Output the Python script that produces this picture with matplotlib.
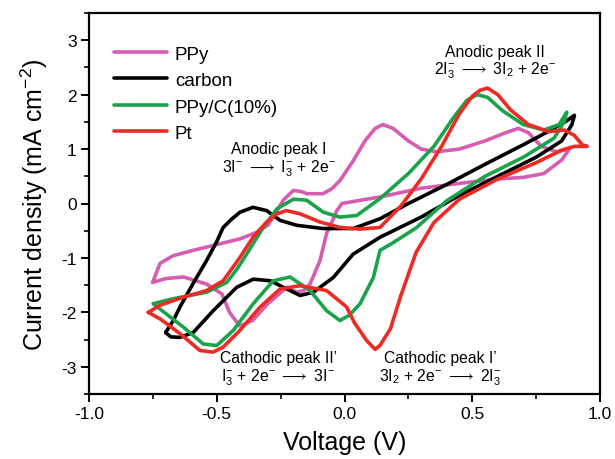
import matplotlib
matplotlib.use("Agg")
import matplotlib.pyplot as plt
from matplotlib.ticker import MultipleLocator

plt.rcParams['font.family'] = ['Liberation Sans', 'DejaVu Sans']
plt.rcParams['mathtext.fontset'] = 'custom'
plt.rcParams['mathtext.rm'] = 'Liberation Sans'
plt.rcParams['mathtext.it'] = 'Liberation Sans:italic'
plt.rcParams['mathtext.bf'] = 'Liberation Sans:bold'
plt.rcParams['axes.unicode_minus'] = False

labels = ['PPy', 'carbon', 'PPy/C(10%)', 'Pt']
colors = ['#d65db1', '#000000', '#1aa34a', '#ee2a24']

ppy_v = [-0.751, -0.722, -0.671, -0.60, -0.539, -0.47, -0.409, -0.344, -0.30, -0.279,
         -0.24, -0.20, -0.17, -0.148, -0.084, -0.05, -0.018, 0.035, 0.08, 0.12,
         0.15, 0.19, 0.25, 0.30, 0.36, 0.45, 0.55, 0.63, 0.68, 0.72,
         0.77, 0.83, 0.88, 0.85, 0.78, 0.70, 0.60, 0.45, 0.30, 0.139,
         0.05, -0.01, -0.03, -0.05, -0.07, -0.096, -0.135, -0.16, -0.187, -0.226,
         -0.30, -0.36, -0.41, -0.45, -0.48, -0.54, -0.63, -0.70, -0.751]
ppy_j = [-1.45, -1.10, -0.96, -0.87, -0.80, -0.72, -0.65, -0.53, -0.40, -0.25,
         0.06, 0.24, 0.22, 0.18, 0.18, 0.27, 0.42, 0.79, 1.15, 1.38,
         1.45, 1.38, 1.15, 1.00, 0.95, 1.00, 1.15, 1.30, 1.38, 1.30,
         1.05, 0.95, 1.00, 0.80, 0.55, 0.48, 0.45, 0.37, 0.28, 0.12,
         0.05, 0.00, -0.13, -0.35, -0.55, -1.05, -1.48, -1.60, -1.63, -1.54,
         -1.84, -2.15, -2.25, -2.00, -1.66, -1.48, -1.35, -1.38, -1.45]

carbon_v = [-0.70, -0.67, -0.644, -0.59, -0.54, -0.50, -0.475, -0.44, -0.409, -0.358,
            -0.305, -0.252, -0.187, -0.084, 0.034, 0.139, 0.25, 0.40, 0.55, 0.70,
            0.80, 0.87, 0.90, 0.89, 0.85, 0.75, 0.60, 0.45, 0.30, 0.139,
            0.034, -0.044, -0.122, -0.174, -0.239, -0.29, -0.357, -0.422, -0.514, -0.592,
            -0.644, -0.68, -0.70]
carbon_j = [-2.37, -2.15, -1.90, -1.45, -1.05, -0.70, -0.44, -0.28, -0.16, -0.07,
            -0.13, -0.31, -0.40, -0.46, -0.46, -0.28, 0.00, 0.35, 0.72, 1.08,
            1.33, 1.52, 1.62, 1.45, 1.15, 0.85, 0.50, 0.15, -0.25, -0.62,
            -0.93, -1.36, -1.63, -1.69, -1.54, -1.42, -1.39, -1.54, -1.97, -2.37,
            -2.46, -2.45, -2.37]

ppyc_v = [-0.748, -0.671, -0.54, -0.461, -0.42, -0.383, -0.318, -0.265, -0.20, -0.148,
          -0.083, -0.018, 0.048, 0.139, 0.25, 0.35, 0.43, 0.48, 0.52, 0.56,
          0.62, 0.70, 0.78, 0.84, 0.87, 0.86, 0.82, 0.70, 0.55, 0.40,
          0.28, 0.18, 0.139, 0.113, 0.061, 0.02, -0.018, -0.07, -0.135, -0.213,
          -0.279, -0.357, -0.435, -0.50, -0.553, -0.631, -0.722, -0.748]
ppyc_j = [-1.84, -1.75, -1.63, -1.45, -1.20, -0.93, -0.44, -0.10, 0.08, 0.06,
          -0.16, -0.25, -0.22, 0.09, 0.55, 1.05, 1.60, 1.90, 2.00, 1.95,
          1.70, 1.45, 1.35, 1.45, 1.68, 1.50, 1.20, 0.85, 0.50, 0.05,
          -0.45, -0.75, -0.86, -1.36, -1.84, -2.05, -2.15, -1.97, -1.60, -1.35,
          -1.42, -1.84, -2.33, -2.61, -2.58, -2.27, -1.94, -1.84]

pt_v = [-0.768, -0.722, -0.63, -0.54, -0.475, -0.409, -0.358, -0.305, -0.265, -0.227,
        -0.174, -0.096, -0.018, 0.061, 0.139, 0.22, 0.30, 0.38, 0.45, 0.50,
        0.53, 0.56, 0.60, 0.65, 0.72, 0.80, 0.86, 0.90, 0.93, 0.95,
        0.90, 0.85, 0.75, 0.60, 0.45, 0.35, 0.28, 0.22, 0.18, 0.14,
        0.12, 0.087, 0.04, 0.008, -0.07, -0.174, -0.252, -0.33, -0.409, -0.475,
        -0.514, -0.566, -0.644, -0.722, -0.768]
pt_j = [-2.00, -1.87, -1.72, -1.60, -1.42, -0.99, -0.62, -0.34, -0.19, -0.13,
        -0.19, -0.34, -0.44, -0.47, -0.44, -0.05, 0.45, 1.05, 1.65, 1.97,
        2.08, 2.12, 2.00, 1.72, 1.45, 1.32, 1.35, 1.25, 1.08, 1.05,
        1.05, 0.98, 0.75, 0.45, 0.08, -0.35, -0.90, -1.70, -2.30, -2.60,
        -2.68, -2.52, -2.20, -1.90, -1.60, -1.51, -1.57, -1.90, -2.33, -2.64,
        -2.73, -2.70, -2.39, -2.12, -2.00]

series_v = [ppy_v, carbon_v, ppyc_v, pt_v]
series_j = [ppy_j, carbon_j, ppyc_j, pt_j]

fig = plt.figure(figsize=(6.15, 4.6), dpi=100)
ax = fig.add_axes([89/615, 65/460, 511/615, 381/460])

for v, j, lab, c in zip(series_v, series_j, labels, colors):
    ax.plot(v, j, color=c, lw=2.6, label=lab, solid_joinstyle='round', solid_capstyle='round')

ax.set_xlim(-1.0, 1.0)
ax.set_ylim(-3.5, 3.5)
ax.xaxis.set_minor_locator(MultipleLocator(0.25))
ax.yaxis.set_minor_locator(MultipleLocator(0.5))
ax.set_xticks([-1.0, -0.5, 0.0, 0.5, 1.0])
ax.set_xticklabels(['-1.0', '-0.5', '0.0', '0.5', '1.0'])
ax.set_yticks([-3, -2, -1, 0, 1, 2, 3])
ax.set_yticklabels(['-3', '-2', '-1', '0', '1', '2', '3'])
for s in ax.spines.values():
    s.set_linewidth(1.6)
ax.tick_params(which='major', direction='out', length=6, width=1.4, labelsize=12.5, pad=3)
ax.tick_params(which='minor', direction='out', length=3.5, width=1.2)

ax.set_xlabel('Voltage (V)', fontsize=18, labelpad=6)
ax.set_ylabel('Current density (mA cm$^{-2}$)', fontsize=18, labelpad=8)

ax.legend(loc='upper left', bbox_to_anchor=(0.049, 0.915), frameon=False,
          fontsize=13.5, handlelength=2.8, handletextpad=0.45, labelspacing=0.5,
          borderpad=0, borderaxespad=0)

fs = 11.3
annotations = [
    (-0.256, 0.81, 'Anodic peak I\n' + r'3I$^{-}$ $\longrightarrow$ I$_3^{-}$ + 2e$^{-}$'),
    (0.589, 2.60, 'Anodic peak II\n' + r'2I$_3^{-}$ $\longrightarrow$ 3I$_2$ + 2e$^{-}$'),
    (-0.26, -3.03, 'Cathodic peak II\u2019\n' + r'I$_3^{-}$ + 2e$^{-}$ $\longrightarrow$ 3I$^{-}$'),
    (0.374, -3.03, 'Cathodic peak I\u2019\n' + r'3I$_2$ + 2e$^{-}$ $\longrightarrow$ 2I$_3^{-}$'),
]
for x, y, t in annotations:
    ax.text(x, y, t, ha='center', va='center', fontsize=fs, multialignment='center',
            linespacing=1.05)

fig.savefig('out.png', dpi=100)
